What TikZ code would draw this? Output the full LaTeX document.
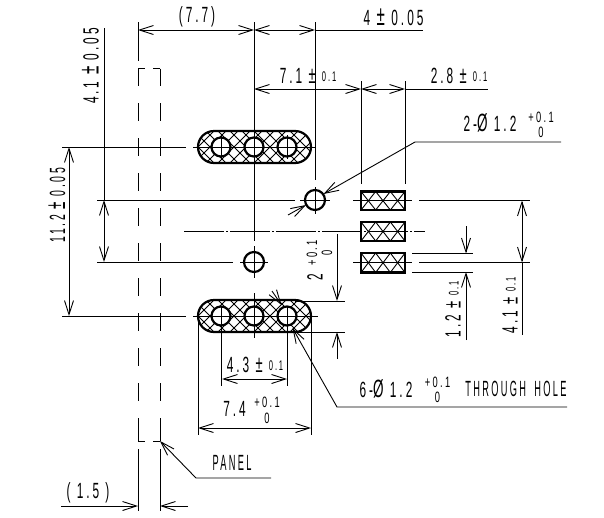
\documentclass[tikz,border=0pt]{standalone}
\usepackage{fontspec}
\setmainfont{Liberation Sans}[LetterSpace=25]
\usetikzlibrary{arrows.meta}
\newcommand{\tolsmall}[1]{\raisebox{2pt}{\fontsize{14}{14}\selectfont #1}}
\newcommand{\plmi}{\hspace{12pt}{\fontsize{28}{22}\selectfont ±}\hspace{12pt}}
\newcommand{\plmismall}{{\fontsize{24}{22}\selectfont ±}}
\newcommand{\dia}{{\fontsize{25}{22}\selectfont Ø}}
\tikzset{
  thinline/.style={line width=0.9pt},
  bold/.style={line width=2.2pt},
  dim/.style={thinline,{Straight Barb[length=14pt,width=9pt]}-{Straight Barb[length=14pt,width=9pt]}},
  tip/.style={thinline,-{Straight Barb[length=14pt,width=9pt]}},
  chain/.style={thinline,dash pattern=on 40pt off 2pt on 2pt off 2pt},
  panel/.style={line width=1pt},
  cad/.style={font=\fontsize{22}{22}\selectfont,inner sep=0pt,xscale=0.54},
  cadcaps/.style={font=\fontsize{22}{22}\selectfont,inner sep=0pt,xscale=0.42},
  cadsmall/.style={font=\fontsize{15}{15}\selectfont,inner sep=0pt,xscale=0.62},
}
\begin{document}
\begin{tikzpicture}[x=1pt,y=-1pt]
\useasboundingbox (0,0) rectangle (604,517);

% slots
\foreach \y in {147,316} {
  \begin{scope}
    \clip[rounded corners=16pt] (198,\y-16) rectangle (311,\y+16);
    \foreach \x in {170,182,...,320} {
      \draw[thinline] (\x,\y-16) -- ({\x+32},\y+16);
      \draw[thinline] ({\x+32},\y-16) -- (\x,\y+16);
    }
  \end{scope}
  \draw[bold,rounded corners=16pt] (198,\y-16) rectangle (311,\y+16);
  \foreach \x in {221,254,287} {
    \draw[bold,fill=white] (\x,\y) circle (9.5);
  }
}

% hatched pads
\foreach \y/\b in {191.5/210,222/241,253/272.5} {
  \begin{scope}
    \clip (361,\y) rectangle (405,\b);
    \foreach \x in {346.33,361,375.67,390.33} {
      \draw[thinline] (\x,\y) -- ({\x+14.67},\b);
      \draw[thinline] ({\x+14.67},\y) -- (\x,\b);
    }
  \end{scope}
  \draw[bold] (361,\y) rectangle (405,\b);
}

% round holes
\node (holeA) at (315,200) [circle,draw,bold,minimum size=20pt,inner sep=0pt] {};
\node (holeB) at (254,262) [circle,draw,bold,minimum size=20pt,inner sep=0pt] {};

% panel
\foreach \x in {138,160} {
  \foreach \y in {103,138,...,423} {
    \draw[panel] (\x,\y) -- (\x,\y+18);
  }
  \draw[panel] (\x,68.5) -- (\x,86);
  \draw[panel] (\x,423) -- (\x,441);
}
\draw[panel] (138,68.5) -- (145,68.5);
\draw[panel] (153,68.5) -- (160,68.5);
\draw[panel] (138,441) -- (145,441);
\draw[panel] (153,441) -- (160,441);

% end points
\coordinate (w1) at (138,22);
\coordinate (w2) at (138,61);
\coordinate (w3) at (138,449);
\coordinate (w4) at (138,511);
\coordinate (e1) at (160,449);
\coordinate (e2) at (160,511);
\coordinate (c1) at (254,22);
\coordinate (c2) at (254,241);
\coordinate (c3) at (315,22);
\coordinate (c4) at (315,180);
\coordinate (p1) at (361,81);
\coordinate (p2) at (361,184);
\coordinate (p3) at (405,81);
\coordinate (p4) at (405,184);

% extension lines
\draw[thinline] (w1) -- (w2);
\draw[thinline] (w3) -- (w4);
\draw[thinline] (e1) -- (e2);
\draw[thinline] (c1) -- (c2);
\draw[thinline] (c3) -- (c4);
\draw[thinline] (p1) -- (p2);
\draw[thinline] (p3) -- (p4);
\draw[thinline] (62,147) -- (186,147);
\draw[thinline] (193,147) -- (316,147);
\draw[thinline] (62,316) -- (186,316);
\draw[thinline] (193,316) -- (318,316);
\draw[thinline] (97,200) -- (295,200);
\draw[thinline] (300,200) -- (330,200);
\draw[thinline] (97,262) -- (233,262);
\draw[thinline] (240,262) -- (268,262);
\draw[thinline] (254,246) -- (254,278);
\draw[thinline] (254,293) -- (254,338);
\draw[thinline] (315,187) -- (315,214);
\draw[thinline] (221,135) -- (221,159);
\draw[thinline] (287,135) -- (287,159);
\draw[thinline] (221,306) -- (221,386);
\draw[thinline] (287,306) -- (287,386);
\draw[thinline] (198,316) -- (198,435);
\draw[thinline] (311,316) -- (311,435);
\draw[thinline] (295,301) -- (345,301);
\draw[thinline] (295,332) -- (345,332);
\draw[chain] (184,231) -- (425,231);
\draw[thinline] (353,200.5) -- (412,200.5);
\draw[thinline] (419,200.5) -- (530,200.5);
\draw[thinline] (353,262.5) -- (412,262.5);
\draw[thinline] (419,262.5) -- (530,262.5);
\draw[thinline] (412,253.5) -- (473,253.5);
\draw[thinline] (412,272) -- (473,272);

% dimensions
\draw[dim] (138,30) -- (254,30);
\draw[dim] (254,30) -- (315,30);
\draw[thinline] (315,30) -- (423,30);
\draw[dim] (254,89) -- (361,89);
\draw[dim] (361,89) -- (405,89);
\draw[thinline] (405,89) -- (488,89);
\draw[thinline] (104,28) -- (104,200);
\draw[dim] (104,200) -- (104,262);
\draw[dim] (69,147) -- (69,316);
\draw[dim] (522,200.5) -- (522,262.5);
\draw[thinline] (522,262.5) -- (522,335);
\draw[tip] (466,226) -- (466,253.5);
\draw[tip] (466,340) -- (466,272);
\draw[tip] (337,234) -- (337,301);
\draw[tip] (337,359) -- (337,332);
\draw[dim] (222,379) -- (287,379);
\draw[dim] (198,428) -- (311,428);
\draw[tip] (61,506) -- (138,506);
\draw[tip] (188,506) -- (160,506);

% leaders
\coordinate (lead1) at (561,142);
\coordinate (lead2) at (415,142);
\coordinate (lead3) at (323.5,194);
\coordinate (lead4) at (288,215);
\coordinate (lead5) at (306,205);
\draw[tip] (lead1) -- (lead2) -- (lead3);
\draw[tip] (lead4) -- (lead5);
\coordinate (lead6) at (567,407);
\coordinate (lead7) at (337,407);
\coordinate (lead8) at (292.5,328);
\coordinate (lead9) at (272,291);
\coordinate (lead10) at (281.5,305);
\draw[tip] (lead6) -- (lead7) -- (lead8);
\draw[tip] (lead9) -- (lead10);
\coordinate (lead11) at (271,478);
\coordinate (lead12) at (196,478);
\coordinate (lead13) at (160,441);
\draw[tip] (lead11) -- (lead12) -- (lead13);

% labels
\node (tA) at (197,17) [cad] {(7.7)};
\node (tB) at (393.5,17) [cad] {4\plmi 0.05};
\node (tC) at (308,76) [cad] {7.1 \plmismall\ \tolsmall{0.1}};
\node (tD) at (459,76) [cad] {2.8 \plmismall\ \tolsmall{0.1}};
\node (tE) at (490,123) [cad] {2-\dia\ 1.2};
\node (tE1) at (541,117) [cadsmall] {+0.1};
\node (tE2) at (541,132) [cadsmall] {0};
\node (tF) at (90.5,66) [rotate=90,cad] {4.1\plmi 0.05};
\node (tG) at (57,205) [rotate=90,cad,xscale=0.88] {11.2\plmi 0.05};
\node (tH) at (315,277) [rotate=90,cad] {2};
\node (tH1) at (312,253) [rotate=90,cadsmall] {+0.1};
\node (tH2) at (327,253) [rotate=90,cadsmall] {0};
\node (tI) at (453,309) [rotate=90,cad] {1.2 \plmismall\ \tolsmall{0.1}};
\node (tJ) at (510,305) [rotate=90,cad] {4.1 \plmismall\ \tolsmall{0.1}};
\node (tK) at (255,365) [cad] {4.3 \plmismall\ \tolsmall{0.1}};
\node (tL) at (234.5,409) [cad] {7.4};
\node (tL1) at (267,402) [cadsmall] {+0.1};
\node (tL2) at (267,418) [cadsmall] {0};
\node (tM) at (386,389) [cad] {6-\dia\ 1.2};
\node (tM1) at (437.5,382) [cadsmall] {+0.1};
\node (tM2) at (437.5,397) [cadsmall] {0};
\node (tN) at (516,389) [cadcaps] {THROUGH\hspace{20pt}HOLE};
\node (tO) at (232,463) [cadcaps] {PANEL};
\node (tP) at (88,493) [cad] {( 1.5 )};
\end{tikzpicture}
\end{document}
